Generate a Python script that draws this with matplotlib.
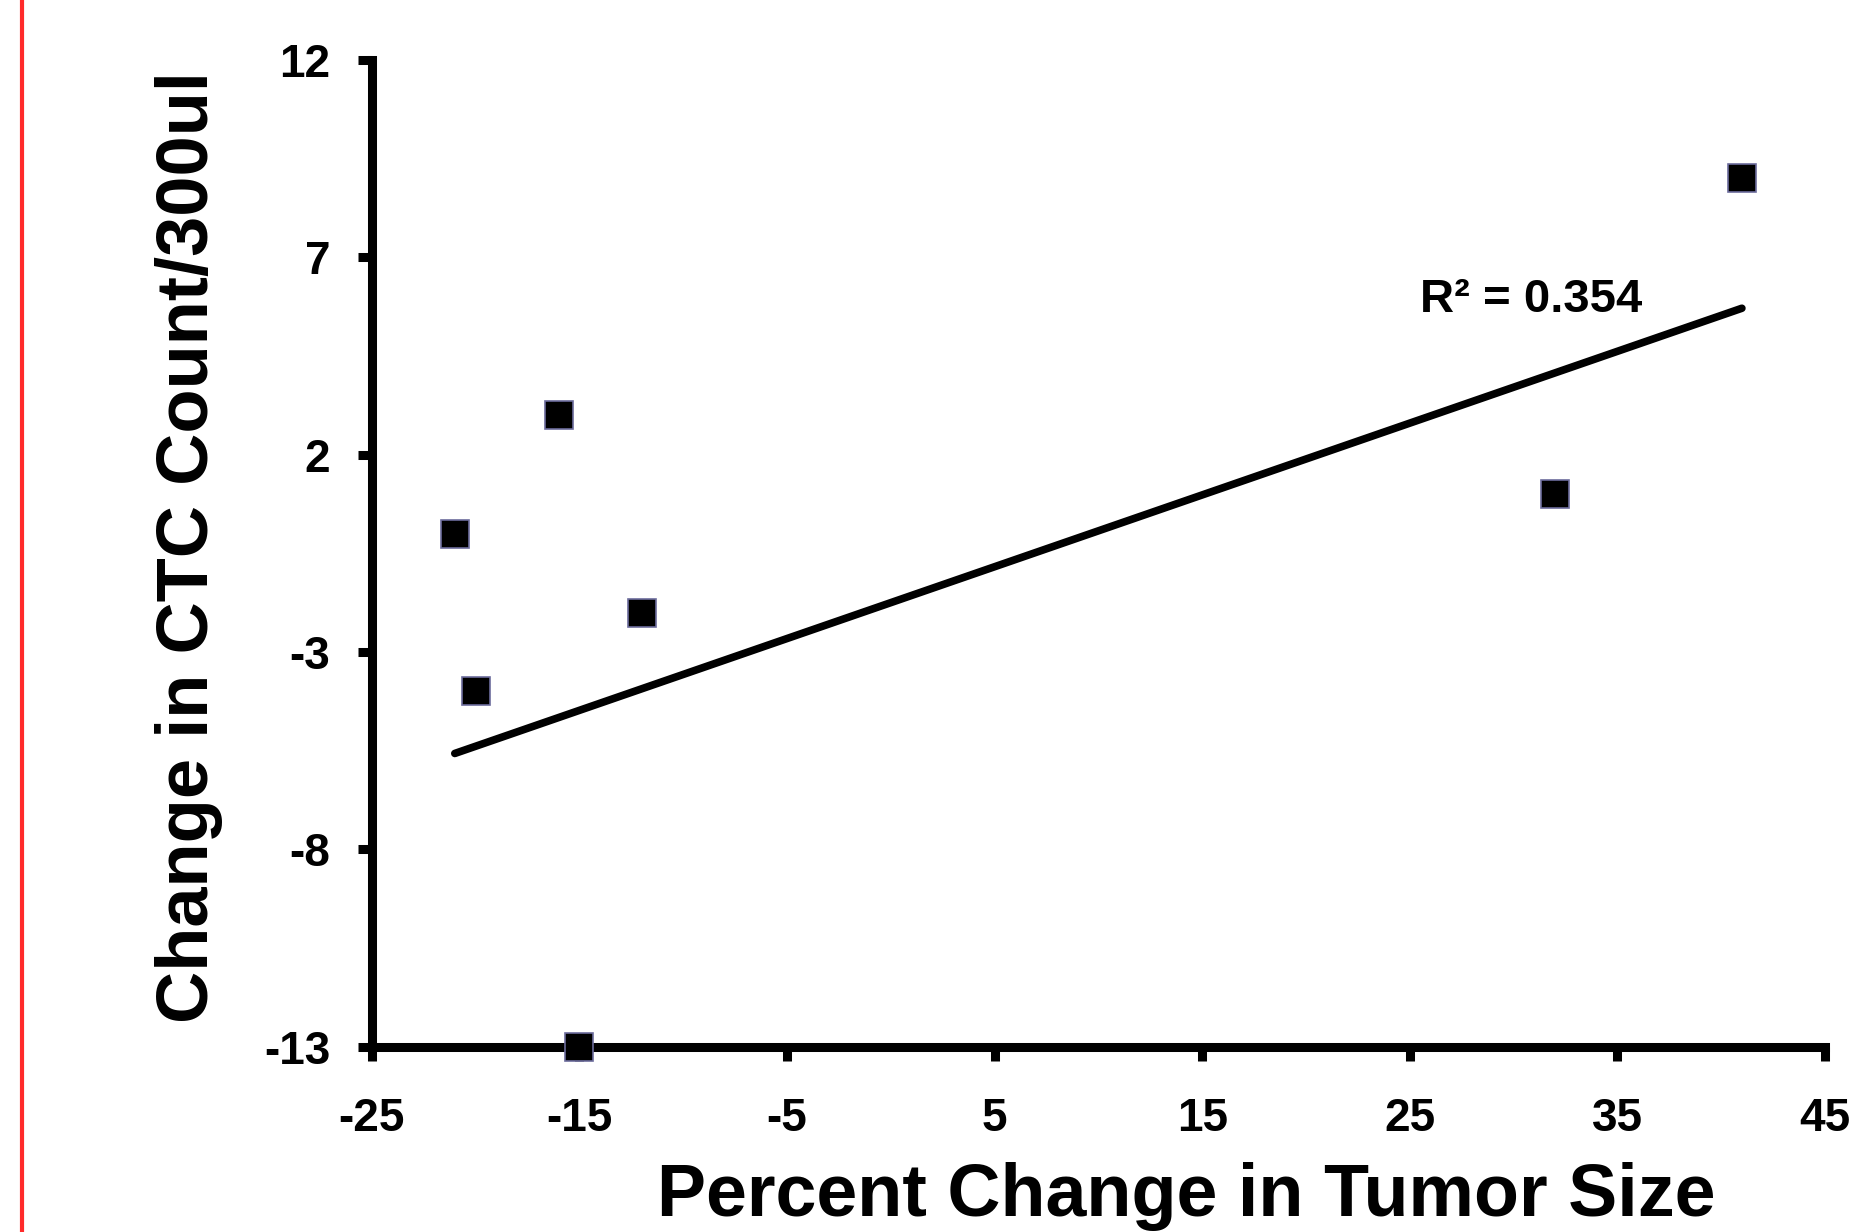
import matplotlib
matplotlib.use("Agg")
import matplotlib.pyplot as plt
from matplotlib.lines import Line2D

plt.rcParams['font.family'] = ['Liberation Sans', 'DejaVu Sans']
plt.rcParams['font.weight'] = 'bold'
plt.rcParams['axes.unicode_minus'] = False

# data
tumor_change = [-21, -20, -16, -15, -12, 32, 41]
ctc_change = [0, -4, 3, -13, -2, 1, 9]

# trend line as drawn in the original (end points)
trend_x = [-21, 41]
trend_y = [-5.57, 5.71]
r2_text = "R\u00b2 = 0.354"

x_ticks = [-25, -15, -5, 5, 15, 25, 35, 45]
y_ticks = [-13, -8, -3, 2, 7, 12]

fig = plt.figure(figsize=(18.7, 12.32), dpi=100)
ax = fig.add_axes([0.1988, 0.1504, 0.7771, 0.8009])

ax.plot(trend_x, trend_y, color='black', lw=5.5, solid_capstyle='round', zorder=3)
ax.plot(tumor_change, ctc_change, ls='none', marker='s', ms=20,
        mfc='black', mec='#6c6c9c', mew=1.2, clip_on=False, zorder=5)

ax.text(25.5, 5.62, r2_text, fontsize=34, fontweight='bold', va='baseline', ha='left')

ax.set_xlim(-25, 45)
ax.set_ylim(-13, 12)
ax.set_xticks(x_ticks)
ax.set_yticks(y_ticks)

for side in ['top', 'right']:
    ax.spines[side].set_visible(False)
for side in ['left', 'bottom']:
    ax.spines[side].set_linewidth(6.5)

ax.tick_params(axis='both', direction='out', length=10, width=6.5, labelsize=33)
ax.tick_params(axis='x', pad=26)
ax.tick_params(axis='y', pad=20)
for lab in ax.get_xticklabels() + ax.get_yticklabels():
    lab.set_fontweight('bold')

fig.text(0.101, 0.556, "Change in CTC Count/300ul", rotation=90, fontsize=52,
         fontweight='bold', ha='center', va='center')
fig.text(0.6345, 0.013, "Percent Change in Tumor Size", fontsize=53,
         fontweight='bold', ha='center', va='baseline')

# red vertical rule at the left edge
fig.add_artist(Line2D([0.012, 0.012], [0, 1], color='#ff2a2a', lw=3,
                      transform=fig.transFigure))

fig.savefig('out.png', dpi=100)
